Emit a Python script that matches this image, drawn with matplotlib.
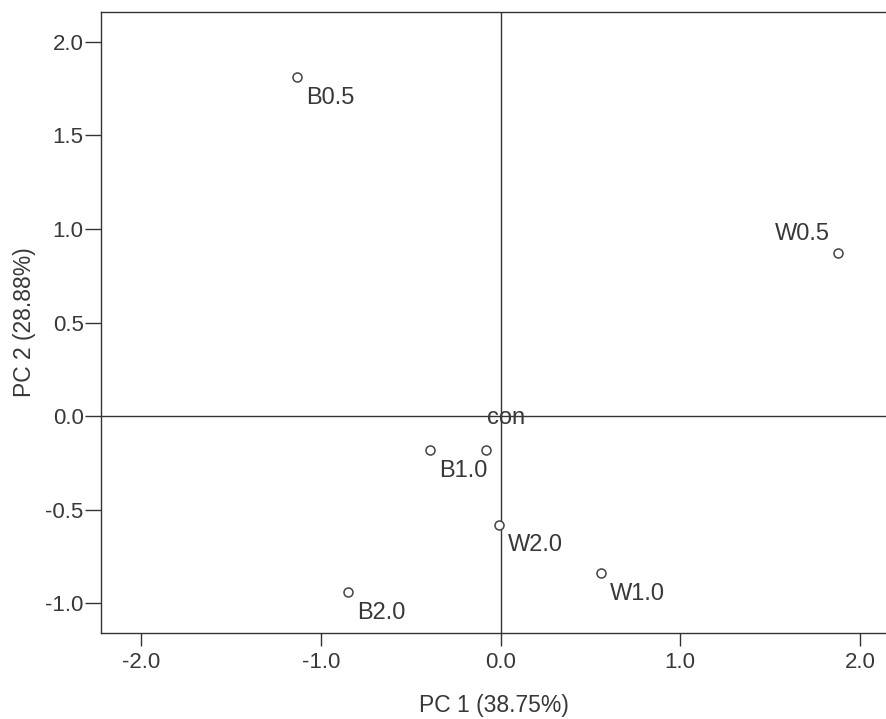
import matplotlib.pyplot as plt

# Datos (scores PC1 / PC2)
etiquetas = ['B0.5', 'W0.5', 'con', 'B1.0', 'W2.0', 'W1.0', 'B2.0']
pc1 = [-1.13, 1.88, -0.08, -0.39, -0.01, 0.56, -0.85]
pc2 = [1.81, 0.87, -0.18, -0.18, -0.58, -0.84, -0.94]

# Desplazamiento de cada etiqueta (en puntos) y alineación
desplaz = {'W0.5': (-6, 14, 'right'), 'con': (0.5, 23, 'left')}

plt.rcParams['font.family'] = ['Liberation Sans', 'DejaVu Sans']
color_txt = '#383838'

fig = plt.figure(figsize=(8.86, 7.19), dpi=100)
ax = fig.add_axes([0.114, 0.1196, 0.886, 0.8637])

# Líneas de referencia en cero
ax.axhline(0, color='#333333', lw=1.0, zorder=1)
ax.axvline(0, color='#333333', lw=1.0, zorder=1)

ax.plot(pc1, pc2, 'o', ms=6.5, mfc='white', mec='#444444', mew=1.1, zorder=3)

for lab, x, y in zip(etiquetas, pc1, pc2):
    dx, dy, ha = desplaz.get(lab, (6.5, -15, 'left'))
    ax.annotate(lab, (x, y), xytext=(dx, dy), textcoords='offset points',
                ha=ha, va='center', fontsize=17, color=color_txt)

ax.set_xlim(-2.223, 2.145)
ax.set_ylim(-1.16, 2.16)
ax.set_xticks([-2, -1, 0, 1, 2])
ax.set_yticks([-1.0, -0.5, 0.0, 0.5, 1.0, 1.5, 2.0])
ax.set_xticklabels(['-2.0', '-1.0', '0.0', '1.0', '2.0'])
ax.set_yticklabels(['-1.0', '-0.5', '0.0', '0.5', '1.0', '1.5', '2.0'])
ax.tick_params(direction='out', width=1.0, color='#333333',
               labelsize=16, labelcolor=color_txt)
ax.tick_params(axis='x', length=9, pad=5)
ax.tick_params(axis='y', length=11.5, pad=1)
ax.spines['right'].set_visible(False)
for s in ['left', 'top', 'bottom']:
    ax.spines[s].set_color('#333333')
    ax.spines[s].set_linewidth(1.0)

ax.set_xlabel('PC 1 (38.75%)', fontsize=16.5, color=color_txt, labelpad=15)
ax.set_ylabel('PC 2 (28.88%)', fontsize=16.5, color=color_txt, labelpad=7)

plt.savefig('out.png', dpi=100)
